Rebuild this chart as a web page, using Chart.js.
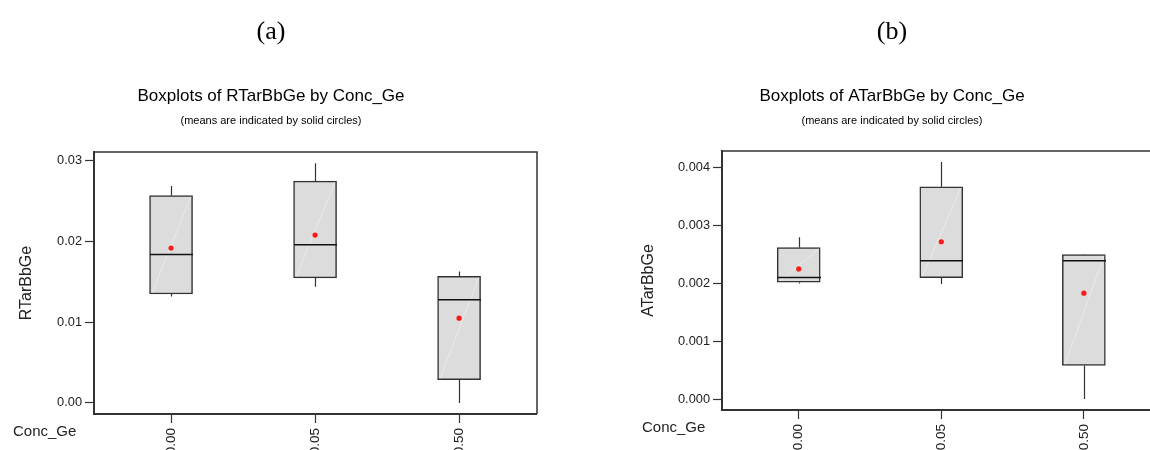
<!DOCTYPE html>
<html>
<head>
<meta charset="utf-8">
<script src="https://cdn.jsdelivr.net/npm/chart.js@4/dist/chart.umd.min.js"></script>
<style>
  html, body { margin: 0; padding: 0; background: #fff; overflow: hidden; width: 1150px; height: 450px; }
  .panel { position: absolute; top: 0; }
</style>
</head>
<body>
<div class="panel" style="left:0"><canvas id="chartA" width="575" height="450"></canvas></div>
<div class="panel" style="left:575px"><canvas id="chartB" width="590" height="450"></canvas></div>
<script>
// Concentration groups on the x axis
const categories = ['0.00', '0.05', '0.50'];

// RTarBbGe five-number summaries and means per group
const rMin    = [0.0132, 0.0144, 0.0000];
const rQ1     = [0.0135, 0.0155, 0.0029];
const rMedian = [0.0184, 0.0196, 0.0128];
const rQ3     = [0.0257, 0.0275, 0.0157];
const rMax    = [0.0269, 0.0297, 0.0163];
const rMean   = [0.0192, 0.0208, 0.0105];
const rTicks  = [0.00, 0.01, 0.02, 0.03];

// ATarBbGe five-number summaries and means per group
const aMin    = [0.00200, 0.00199, 0.00000];
const aQ1     = [0.00202, 0.00210, 0.00058];
const aMedian = [0.00210, 0.00239, 0.00239];
const aQ3     = [0.00262, 0.00367, 0.00250];
const aMax    = [0.00280, 0.00410, 0.00251];
const aMean   = [0.00225, 0.00272, 0.00183];
const aTicks  = [0.000, 0.001, 0.002, 0.003, 0.004];

Chart.defaults.font.family = '"Liberation Sans", Arial, sans-serif';
Chart.defaults.color = '#222';

// Whiskers, medians and the light sheen line on each box
const boxExtras = {
  id: 'boxExtras',
  afterDatasetDraw(chart, args, opts) {
    if (args.index !== 0) return;
    const ctx = chart.ctx, xs = chart.scales.x, ys = chart.scales.y;
    const half = opts.boxWidth / 2;
    ctx.save();
    opts.lo.forEach((lo, i) => {
      const x = Math.round(xs.getPixelForValue(i)) + 0.5;
      const pMin = ys.getPixelForValue(opts.lo[i]);
      const pQ1 = ys.getPixelForValue(opts.q1[i]);
      const pMed = ys.getPixelForValue(opts.med[i]);
      const pQ3 = ys.getPixelForValue(opts.q3[i]);
      const pMax = ys.getPixelForValue(opts.hi[i]);
      // sheen
      ctx.strokeStyle = 'rgba(255,255,255,0.45)';
      ctx.lineWidth = 0.8;
      ctx.beginPath();
      ctx.moveTo(x - half + 2, pQ1 - 1);
      ctx.lineTo(x + half - 2, pQ3 + 1);
      ctx.stroke();
      // whiskers
      ctx.strokeStyle = '#333';
      ctx.lineWidth = 1.2;
      ctx.beginPath();
      ctx.moveTo(x, pQ3); ctx.lineTo(x, pMax);
      ctx.moveTo(x, pQ1); ctx.lineTo(x, pMin);
      ctx.stroke();
      // median
      ctx.strokeStyle = '#111';
      ctx.lineWidth = 1.5;
      ctx.beginPath();
      ctx.moveTo(x - half, pMed); ctx.lineTo(x + half, pMed);
      ctx.stroke();
    });
    ctx.restore();
  }
};

// Frame around the plotting area
const frame = {
  id: 'frame',
  afterDraw(chart) {
    const {left, top, right, bottom} = chart.chartArea;
    const ctx = chart.ctx;
    ctx.save();
    ctx.strokeStyle = '#333';
    ctx.lineWidth = 1.5;
    ctx.beginPath();
    ctx.moveTo(left, top); ctx.lineTo(right, top); ctx.lineTo(right, bottom);
    ctx.stroke();
    ctx.lineWidth = 2;
    ctx.beginPath();
    ctx.moveTo(left, top - 1); ctx.lineTo(left, bottom); ctx.lineTo(right, bottom);
    ctx.stroke();
    ctx.restore();
  }
};

// Panel letter, titles and the grouping variable name
const headers = {
  id: 'headers',
  afterDraw(chart, args, o) {
    const ctx = chart.ctx;
    ctx.save();
    ctx.fillStyle = '#000';
    ctx.textBaseline = 'middle';
    ctx.textAlign = 'center';
    ctx.font = '26px "Liberation Serif", "Times New Roman", serif';
    ctx.fillText(o.letter, o.cx, o.letterY);
    ctx.font = '17px "Liberation Sans", Arial, sans-serif';
    ctx.fillText(o.title, o.cx, o.titleY);
    ctx.font = '11px "Liberation Sans", Arial, sans-serif';
    ctx.fillText(o.subtitle, o.cx, o.subY);
    ctx.textAlign = 'left';
    ctx.fillStyle = '#222';
    ctx.font = '15px "Liberation Sans", Arial, sans-serif';
    ctx.fillText(o.groupName, o.gx, o.gy);
    ctx.restore();
  }
};

function makeBoxChart(el, cfg) {
  const boxes = categories.map((c, i) => ({x: i, y: [cfg.q1[i], cfg.q3[i]]}));
  const means = categories.map((c, i) => ({x: i, y: cfg.mean[i]}));
  return new Chart(el, {
    type: 'bar',
    data: {
      datasets: [
        {
          type: 'bar', data: boxes, order: 2,
          backgroundColor: '#dcdcdc', borderColor: '#333', borderWidth: 1.5,
          borderSkipped: false, barThickness: 43
        },
        {
          type: 'scatter', data: means, order: 1,
          pointRadius: 2.6, pointBackgroundColor: '#ff1a1a', pointBorderWidth: 0
        }
      ]
    },
    options: {
      responsive: false,
      animation: false,
      devicePixelRatio: 1,
      layout: { padding: cfg.padding },
      plugins: {
        legend: { display: false },
        tooltip: { enabled: false },
        boxExtras: { lo: cfg.lo, q1: cfg.q1, med: cfg.med, q3: cfg.q3, hi: cfg.hi, boxWidth: 43 },
        headers: cfg.headers
      },
      scales: {
        x: {
          type: 'linear', min: cfg.xMin, max: cfg.xMax, offset: false,
          afterBuildTicks: s => { s.ticks = categories.map((c, i) => ({value: i})); },
          afterFit: s => { s.height = cfg.xHeight; },
          ticks: {
            callback: v => categories[v],
            minRotation: 90, maxRotation: 90, autoSkip: false,
            padding: 5, font: { size: 13.5 }, color: '#222'
          },
          grid: { offset: false, drawOnChartArea: false, drawTicks: true, tickLength: 9, tickColor: '#333', tickWidth: 1.2 },
          border: { display: false }
        },
        y: {
          type: 'linear', min: cfg.yMin, max: cfg.yMax,
          afterBuildTicks: s => { s.ticks = cfg.yTicks.map(v => ({value: v})); },
          afterFit: s => { s.width = cfg.yWidth; },
          ticks: {
            callback: v => v.toFixed(cfg.decimals),
            padding: 3, font: { size: 12.8 }, color: '#222'
          },
          grid: { drawOnChartArea: false, drawTicks: true, tickLength: 9, tickColor: '#333', tickWidth: 1.2 },
          border: { display: false },
          title: {
            display: true, text: cfg.yTitle, color: '#222',
            font: { size: 16 }, padding: { top: cfg.yTitlePad, bottom: 0 }
          }
        }
      }
    },
    plugins: [boxExtras, frame, headers]
  });
}

makeBoxChart(document.getElementById('chartA'), {
  lo: rMin, q1: rQ1, med: rMedian, q3: rQ3, hi: rMax, mean: rMean,
  yTicks: rTicks, decimals: 2, yMin: -0.00137, yMax: 0.0311,
  xMin: -0.535, xMax: 2.541,
  padding: { top: 152, right: 38, bottom: 0, left: 0 },
  yWidth: 94, xHeight: 36, yTitle: 'RTarBbGe', yTitlePad: 17,
  headers: {
    letter: '(a)', letterY: 32, cx: 271, titleY: 96, subY: 121,
    title: 'Boxplots of RTarBbGe by Conc_Ge',
    subtitle: '(means are indicated by solid circles)',
    groupName: 'Conc_Ge', gx: 13, gy: 432
  }
});

makeBoxChart(document.getElementById('chartB'), {
  lo: aMin, q1: aQ1, med: aMedian, q3: aQ3, hi: aMax, mean: aMean,
  yTicks: aTicks, decimals: 3, yMin: -0.00019, yMax: 0.00429,
  xMin: -0.538, xMax: 2.541,
  padding: { top: 151, right: 4, bottom: 0, left: 0 },
  yWidth: 147, xHeight: 40, yTitle: 'ATarBbGe', yTitlePad: 64,
  headers: {
    letter: '(b)', letterY: 32, cx: 317, titleY: 96, subY: 121,
    title: 'Boxplots of ATarBbGe by Conc_Ge',
    subtitle: '(means are indicated by solid circles)',
    groupName: 'Conc_Ge', gx: 67, gy: 428
  }
});
</script>
</body>
</html>
